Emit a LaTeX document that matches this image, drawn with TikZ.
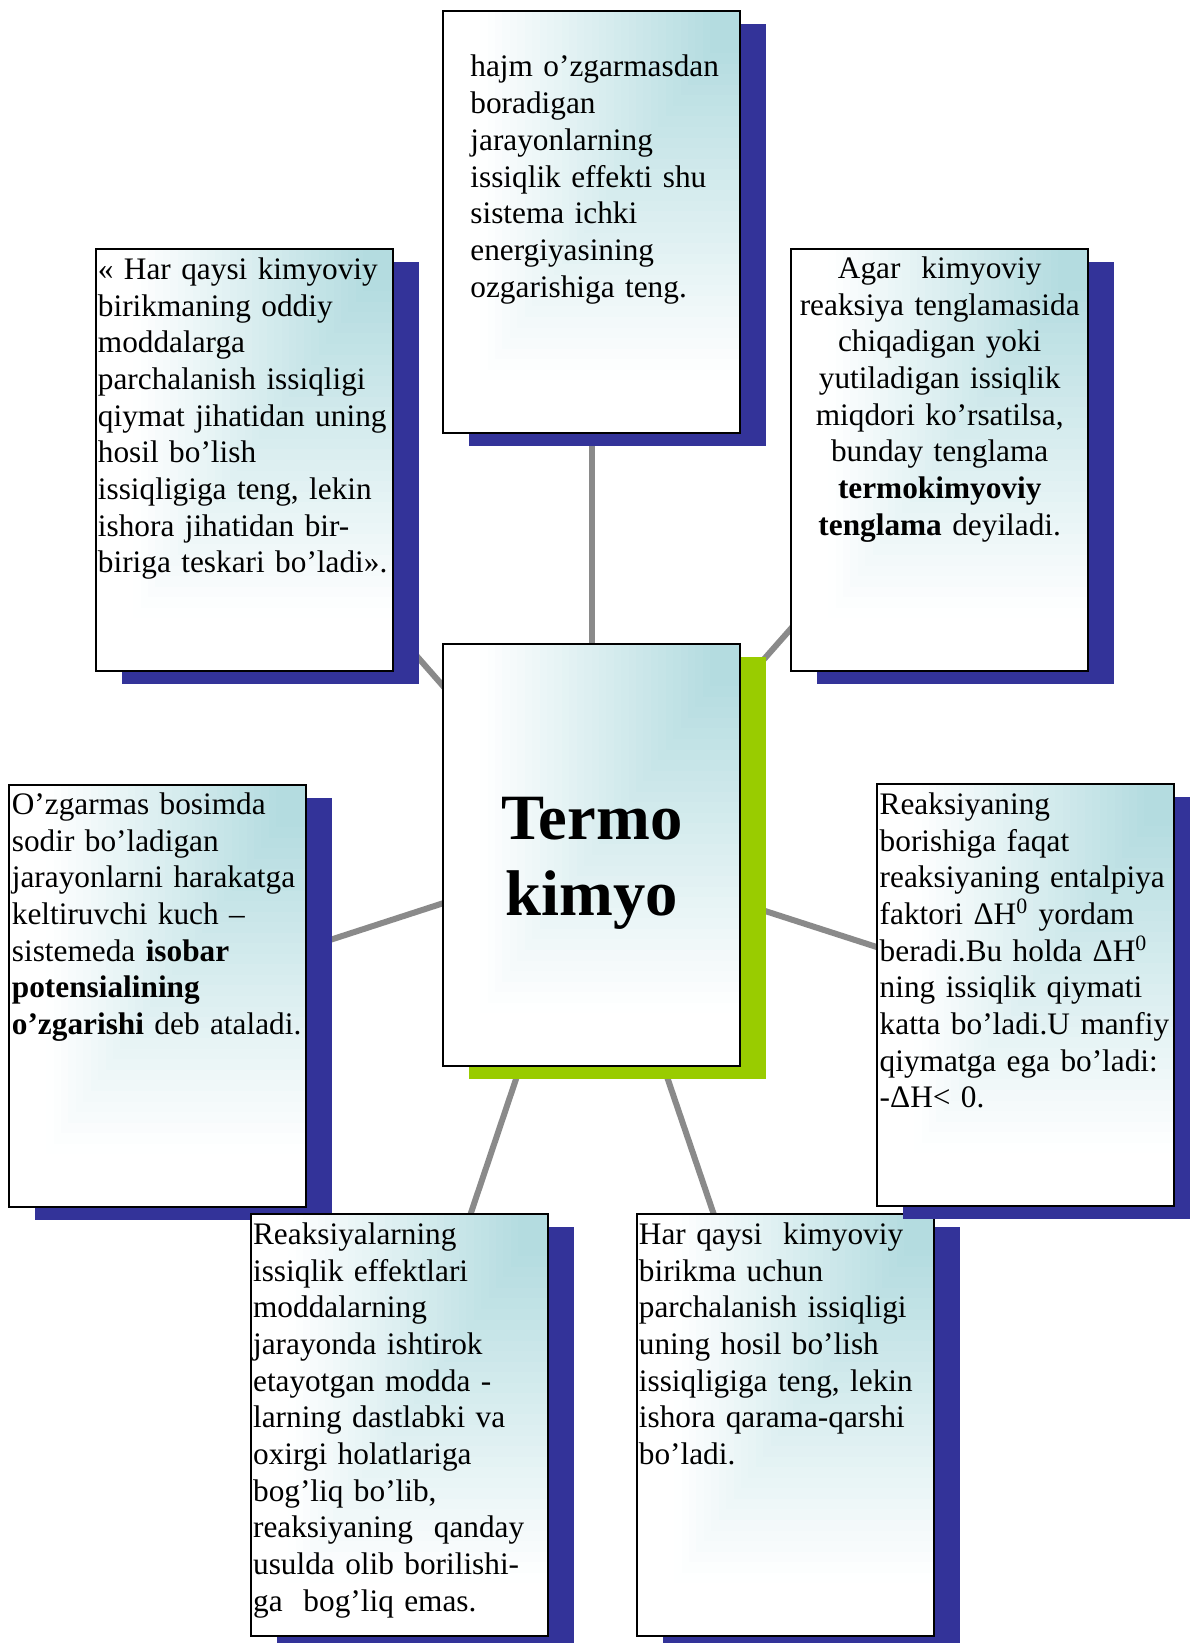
\documentclass[tikz,border=0pt]{standalone}
\usepackage{fontspec}
\setmainfont{Liberation Serif}
\definecolor{shadowblue}{RGB}{51,51,153}
\definecolor{shadowgreen}{RGB}{153,204,0}
\definecolor{cardteal}{RGB}{180,220,224}
\definecolor{linkgray}{RGB}{138,138,138}
\pgfdeclarelayer{links}
\pgfsetlayers{links,main}

\tikzset{
  % card: framed panel with a corner gradient (teal at the upper right, white elsewhere)
  cardbox/.style={rectangle, draw=black, line width=1pt,
    minimum width=148.5pt, minimum height=211pt,
    inner sep=0pt, outer sep=0pt, anchor=north west,
    path picture={
      \foreach \k in {40,39,...,1}{
        \pgfmathsetmacro\tv{\k/40}
        \pgfmathsetmacro\pc{max(0,min(100,100*(0.88-\tv)/0.78))}
        \fill[cardteal!\pc!white]
          ([xshift={-\tv*148.5pt}]path picture bounding box.north east)
          rectangle ([yshift={-\tv*211pt}]path picture bounding box.north east);
      }}},
  cardtext/.style={anchor=base west, inner sep=0pt, text width=160pt, align=left,
    font=\fontsize{15.65pt}{18.35pt}\selectfont},
  centertext/.style={anchor=base, inner sep=0pt, text width=150pt, align=center,
    font=\fontsize{15.65pt}{18.35pt}\selectfont},
  coretext/.style={anchor=base, inner sep=0pt, text width=140pt, align=center,
    font=\bfseries\fontsize{32.3pt}{37.85pt}\selectfont},
  link/.style={draw=linkgray, line width=3pt}
}

% shadowed card: name, left, top, shadow colour
\newcommand\card[4]{%
  \fill[#4] ({#2+26},{#3+13}) rectangle ++(297,422);
  \node[cardbox] (#1) at (#2,#3) {};
}

\begin{document}
\begin{tikzpicture}[x=0.5pt, y=-0.5pt]
\useasboundingbox (0,0) rectangle (1189,1643);
\begin{pgfonlayer}{links}
  \fill[white] (0,0) rectangle (1189,1643);
\end{pgfonlayer}

% top
\card{b1}{443}{11}{shadowblue}
\node[cardtext] (b1t) at (470,77) {hajm o’zgarmasdan\\boradigan\\jarayonlarning\\issiqlik effekti shu\\sistema ichki\\energiyasining\\ozgarishiga teng.};

% upper left
\card{b2}{96}{249}{shadowblue}
\node[cardtext] (b2t) at (97.5,279.3) {« Har qaysi kimyoviy\\birikmaning oddiy\\moddalarga\\parchalanish issiqligi\\qiymat jihatidan uning\\hosil bo’lish\\issiqligiga teng, lekin\\ishora jihatidan bir-\\biriga teskari bo’ladi».};

% upper right
\card{b3}{791}{249}{shadowblue}
\node[centertext] (b3t) at (939.7,278.3) {Agar\ \ kimyoviy\\reaksiya tenglamasida\\chiqadigan yoki\\yutiladigan issiqlik\\miqdori ko’rsatilsa,\\bunday tenglama\\\textbf{termokimyoviy}\\\textbf{tenglama} deyiladi.};

% centre
\card{core}{443}{644}{shadowgreen}
\node[coretext] (coret) at (592,839.3) {Termo\\kimyo};

% lower right
\card{b7}{637}{1214}{shadowblue}
\node[cardtext] (b7t) at (638.5,1244.3) {Har qaysi\ \ kimyoviy\\birikma uchun\\parchalanish issiqligi\\uning hosil bo’lish\\issiqligiga teng, lekin\\ishora qarama-qarshi\\bo’ladi.};

% middle right
\card{b5}{877}{784}{shadowblue}
\node[cardtext] (b5t) at (879.3,814.3) {Reaksiyaning\\borishiga faqat\\reaksiyaning entalpiya\\faktori ΔH\textsuperscript{0} yordam\\beradi.Bu holda ΔH\textsuperscript{0}\\ning issiqlik qiymati\\katta bo’ladi.U manfiy\\qiymatga ega bo’ladi:\\-ΔH< 0.};

% middle left
\card{b4}{9}{785}{shadowblue}
\node[cardtext] (b4t) at (11.5,814.3) {O’zgarmas bosimda\\sodir bo’ladigan\\jarayonlarni harakatga\\keltiruvchi kuch –\\sistemeda \textbf{isobar}\\\textbf{potensialining}\\\textbf{o’zgarishi} deb ataladi.};

% lower left
\card{b6}{251}{1214}{shadowblue}
\node[cardtext] (b6t) at (252.7,1244.3) {Reaksiyalarning\\issiqlik effektlari\\moddalarning\\jarayonda ishtirok\\etayotgan modda -\\larning dastlabki va\\oxirgi holatlariga\\bog’liq bo’lib,\\reaksiyaning\ \ qanday\\usulda olib borilishi-\\ga\ \ bog’liq emas.};

% spokes from the centre card
\begin{pgfonlayer}{links}
  \foreach \b in {b1,b2,b3,b4,b5,b6,b7}
    \draw[link] (core.center) -- (\b.center);
\end{pgfonlayer}
\end{tikzpicture}
\end{document}
